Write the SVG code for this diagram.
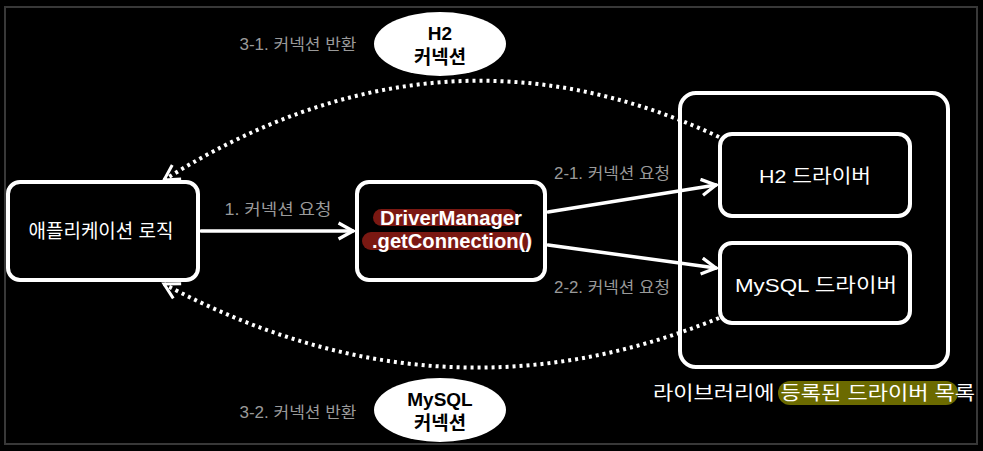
<svg xmlns="http://www.w3.org/2000/svg" width="983" height="451" viewBox="0 0 983 451">
<defs>
<style>
.box{fill:#000;stroke:#fff;stroke-width:4}
.t{font-family:"Liberation Sans","Noto Sans CJK KR",sans-serif;fill:#fff;font-size:19px;text-anchor:middle}
.b{font-weight:bold;font-size:20px}
.lbl{font-family:"Liberation Sans","Noto Sans CJK KR",sans-serif;fill:#9a9a9a;font-size:16px;text-anchor:middle}
.ell{fill:#fff}
.et{font-family:"Liberation Sans","Noto Sans CJK KR",sans-serif;fill:#000;font-size:19px;font-weight:bold;text-anchor:middle}
.solid{fill:none;stroke:#fff;stroke-width:3.5;stroke-linecap:round}
.dot{fill:none;stroke:#fff;stroke-width:4;stroke-dasharray:3 4}
</style>
<marker id="ah" viewBox="0 0 12 12" refX="10" refY="6" markerWidth="5.5" markerHeight="5.5" orient="auto" markerUnits="strokeWidth">
<path d="M1,1 L10,6 L1,11" fill="none" stroke="#fff" stroke-width="2"/>
</marker>
<marker id="ah2" viewBox="0 0 12 12" refX="10" refY="6" markerWidth="5" markerHeight="5" orient="auto" markerUnits="strokeWidth">
<path d="M1,1 L10,6 L1,11" fill="none" stroke="#fff" stroke-width="1.8"/>
</marker>
</defs>
<rect width="983" height="451" fill="#000"/>
<rect x="5" y="7" width="972" height="437" fill="none" stroke="#383838" stroke-width="2"/>

<g id="ellipse-h2">
<ellipse class="ell" cx="440" cy="44" rx="66" ry="32"/>
<text class="et" x="440" y="40">H2</text>
<text class="et" x="440" y="64" textLength="52" lengthAdjust="spacingAndGlyphs">커넥션</text>
</g>
<g id="ellipse-mysql">
<ellipse class="ell" cx="440" cy="410" rx="66" ry="32"/>
<text class="et" x="440" y="406">MySQL</text>
<text class="et" x="440" y="430" textLength="52" lengthAdjust="spacingAndGlyphs">커넥션</text>
</g>

<g id="library">
<rect class="box" x="680" y="93" width="268" height="274" rx="16"/>
<rect x="778" y="381" width="180" height="24" rx="12" fill="#6b6a00"/>
<text class="t" x="814" y="400" textLength="322" lengthAdjust="spacingAndGlyphs">라이브러리에 등록된 드라이버 목록</text>
</g>
<g id="h2-driver">
<rect class="box" x="720" y="134" width="190" height="82" rx="12"/>
<text class="t" x="815" y="183" textLength="112" lengthAdjust="spacingAndGlyphs">H2 드라이버</text>
</g>
<g id="mysql-driver">
<rect class="box" x="720" y="243" width="190" height="80" rx="12"/>
<text class="t" x="816" y="292" textLength="162" lengthAdjust="spacingAndGlyphs">MySQL 드라이버</text>
</g>
<g id="app">
<rect class="box" x="8" y="182" width="190" height="98" rx="12"/>
<text class="t" x="101" y="238" textLength="145" lengthAdjust="spacingAndGlyphs">애플리케이션 로직</text>
</g>
<g id="driver-manager">
<rect class="box" x="357" y="182" width="188" height="98" rx="12"/>
<rect x="373" y="209" width="144" height="17" rx="8.5" fill="#7a1812"/>
<rect x="362" y="232" width="170" height="18" rx="9" fill="#7a1812"/>
<text class="t b" x="451" y="225" textLength="142" lengthAdjust="spacingAndGlyphs">DriverManager</text>
<text class="t b" x="452" y="248" textLength="160" lengthAdjust="spacingAndGlyphs">.getConnection()</text>
</g>

<g id="connectors">
<path class="solid" d="M201,231 L353,231" marker-end="url(#ah)"/>
<path class="solid" d="M548,212 L716,185" marker-end="url(#ah)"/>
<path class="solid" d="M548,245 L716,268" marker-end="url(#ah)"/>
<path class="dot" d="M719,137 Q440,6 164,180" marker-end="url(#ah2)"/>
<path class="dot" d="M719,318 Q440,432 164,284" marker-end="url(#ah2)"/>
<text class="lbl" x="278" y="215" textLength="107" lengthAdjust="spacingAndGlyphs">1. 커넥션 요청</text>
<text class="lbl" x="612" y="179" textLength="116" lengthAdjust="spacingAndGlyphs">2-1. 커넥션 요청</text>
<text class="lbl" x="612" y="293" textLength="116" lengthAdjust="spacingAndGlyphs">2-2. 커넥션 요청</text>
<text class="lbl" x="298" y="50" textLength="117" lengthAdjust="spacingAndGlyphs">3-1. 커넥션 반환</text>
<text class="lbl" x="298" y="418" textLength="117" lengthAdjust="spacingAndGlyphs">3-2. 커넥션 반환</text>
</g>
</svg>
